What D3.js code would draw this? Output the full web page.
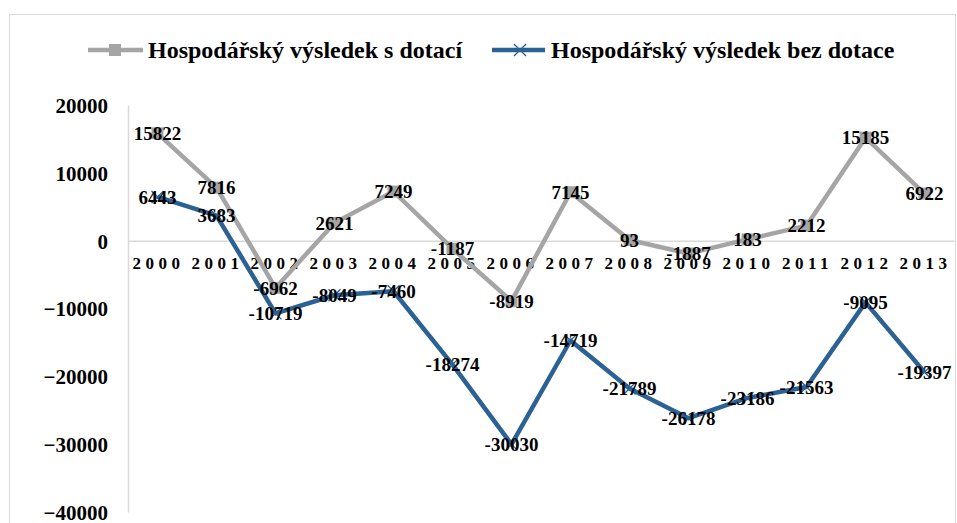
<!DOCTYPE html>
<html>
<head>
<meta charset="utf-8">
<script src="https://cdn.jsdelivr.net/npm/d3@7"></script>
<style>
  body { margin: 0; background: #fff; }
  text { font-family: "Liberation Serif", "Times New Roman", serif; font-weight: bold; fill: #000; }
</style>
</head>
<body>
<div class="mainContainer"></div>
<script>
// data
var years = ["2000","2001","2002","2003","2004","2005","2006","2007","2008","2009","2010","2011","2012","2013"];
var sDotaci = [15822, 7816, -6962, 2621, 7249, -1187, -8919, 7145, 93, -1887, 183, 2212, 15185, 6922];
var bezDotace = [6443, 3683, -10719, -8049, -7460, -18274, -30030, -14719, -21789, -26178, -23186, -21563, -9095, -19397];
var yTicks = [20000, 10000, 0, -10000, -20000, -30000, -40000];
var seriesNames = ["Hospodářský výsledek s dotací", "Hospodářský výsledek bez dotace"];

var W = 957, H = 523;
var grey = "#a5a5a5", blue = "#2c6193", axisGrey = "#d9d9d9";

var svg = d3.select(".mainContainer").append("svg").attr("width", W).attr("height", H);

// chart border
svg.append("rect").attr("x", 9.5).attr("y", 14.5).attr("width", 946).attr("height", 540)
	.style("fill", "none").style("stroke", axisGrey).style("stroke-width", 1);

var x = d3.scaleBand().domain(years).range([128, 954]);
var y = d3.scaleLinear().domain([-40000, 20000]).range([512, 105]);

// y axis
var yAxis = svg.append("g").attr("transform", "translate(128,0)")
	.call(d3.axisLeft(y).tickValues(yTicks).tickSize(0).tickPadding(20).tickFormat(d3.format("d")));
yAxis.select(".domain").style("stroke", axisGrey).style("stroke-width", 1.5);
yAxis.selectAll("text").style("font-size", "21px").attr("dy", "0.35em");

// zero line + category labels
var xAxis = svg.append("g").attr("transform", "translate(0," + y(0) + ")")
	.call(d3.axisBottom(x).tickSize(0).tickPadding(16));
xAxis.select(".domain").style("stroke", axisGrey).style("stroke-width", 1.5);
xAxis.selectAll("text").style("font-size", "17px").style("letter-spacing", "4.5px").attr("dx", "1px");

var cx = function(d, i) { return x(years[i]) + x.bandwidth() / 2; };
var line = d3.line().x(cx).y(function(d) { return y(d); });

// grey series
svg.append("path").datum(sDotaci).attr("d", line)
	.style("fill", "none").style("stroke", grey).style("stroke-width", 4.5).style("stroke-linejoin", "round");
svg.selectAll(".sq").data(sDotaci).enter().append("rect").attr("class", "sq")
	.attr("x", function(d, i) { return cx(d, i) - 6; }).attr("y", function(d) { return y(d) - 6; })
	.attr("width", 12).attr("height", 12).style("fill", grey);

// blue series
svg.append("path").datum(bezDotace).attr("d", line)
	.style("fill", "none").style("stroke", blue).style("stroke-width", 4.5).style("stroke-linejoin", "round");
svg.selectAll(".xm").data(bezDotace).enter().append("path").attr("class", "xm")
	.attr("transform", function(d, i) { return "translate(" + cx(d, i) + "," + y(d) + ")"; })
	.attr("d", "M-6,-6L6,6M-6,6L6,-6").style("stroke", blue).style("stroke-width", 1.3);

// data labels, centred on points
[sDotaci, bezDotace].forEach(function(s) {
	svg.append("g").selectAll("text").data(s).enter().append("text")
		.attr("x", cx).attr("y", function(d) { return y(d); }).attr("dy", "0.35em")
		.attr("text-anchor", "middle").style("font-size", "19px")
		.text(function(d) { return d; });
});

// legend
var leg = svg.append("g");
leg.append("line").attr("x1", 88).attr("x2", 143).attr("y1", 50).attr("y2", 50).style("stroke", grey).style("stroke-width", 4.5);
leg.append("rect").attr("x", 109).attr("y", 44).attr("width", 12).attr("height", 12).style("fill", grey);
leg.append("text").attr("x", 148).attr("y", 50).attr("dy", "0.35em").style("font-size", "24px").text(seriesNames[0]);
leg.append("line").attr("x1", 492).attr("x2", 545).attr("y1", 50).attr("y2", 50).style("stroke", blue).style("stroke-width", 4.5);
leg.append("path").attr("transform", "translate(520,50)").attr("d", "M-6,-6L6,6M-6,6L6,-6").style("stroke", blue).style("stroke-width", 1.3);
leg.append("text").attr("x", 551).attr("y", 50).attr("dy", "0.35em").style("font-size", "24px").text(seriesNames[1]);
</script>
</body>
</html>
